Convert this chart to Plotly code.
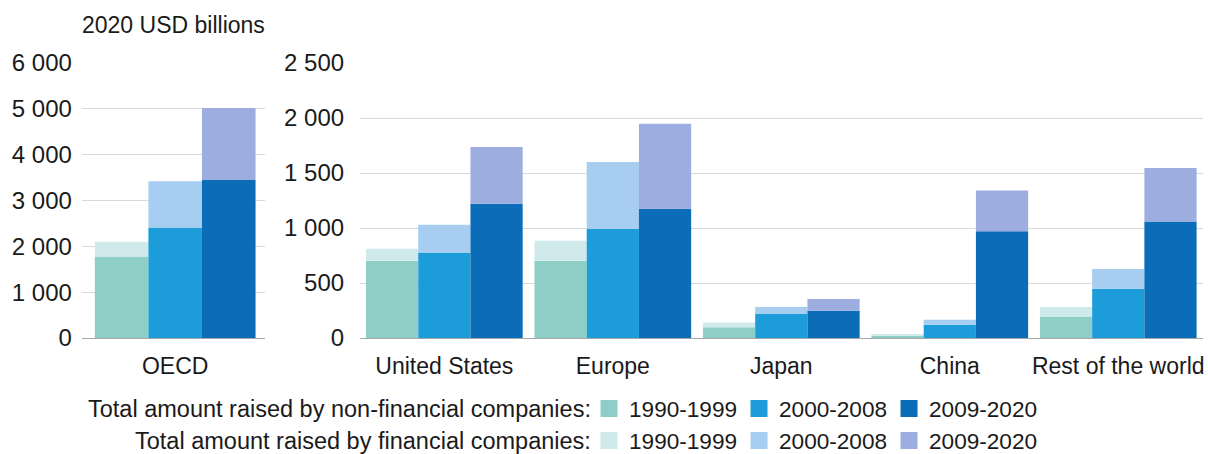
import plotly.graph_objects as go

# ---------------- data ----------------
periods = ["1990-1999", "2000-2008", "2009-2020"]
oecd_category = ["OECD"]
regions = ["United States", "Europe", "Japan", "China", "Rest of the world"]

# OECD (left panel), one value per period
oecd_nonfin = [1780, 2410, 3450]
oecd_fin = [320, 1010, 1570]

# Regions (right panel), values per region
nonfin_1990_1999 = [703, 703, 97, 21, 191]
nonfin_2000_2008 = [778, 991, 218, 121, 448]
nonfin_2009_2020 = [1221, 1176, 248, 970, 1060]
fin_1990_1999 = [109, 182, 45, 9, 91]
fin_2000_2008 = [252, 609, 64, 45, 179]
fin_2009_2020 = [515, 772, 107, 372, 485]

left_ticks = [0, 1000, 2000, 3000, 4000, 5000, 6000]
right_ticks = [0, 500, 1000, 1500, 2000, 2500]

# ---------------- styles ----------------
nonfin_colors = ["#8dcfc6", "#1c9cd8", "#0b6db8"]
fin_colors = ["#d0eaec", "#a7cdf1", "#9dade0"]
FONT = "Liberation Sans, Arial, sans-serif"
FS = 23
YFS = 24
LFS = 22.6
AFS = 23.5
TXT = "#1a1a1a"
W, H = 1208, 470   # page window is 454 high; the extra strip below is cut off

nonfin_regions = [nonfin_1990_1999, nonfin_2000_2008, nonfin_2009_2020]
fin_regions = [fin_1990_1999, fin_2000_2008, fin_2009_2020]

fig = go.Figure()
for i, p in enumerate(periods):
    # left panel
    fig.add_trace(go.Bar(x=oecd_category, y=[oecd_nonfin[i]], offsetgroup=str(i),
                         marker=dict(color=nonfin_colors[i], line_width=0),
                         xaxis="x", yaxis="y", showlegend=False, name=p))
    fig.add_trace(go.Bar(x=oecd_category, y=[oecd_fin[i]], base=[oecd_nonfin[i]],
                         offsetgroup=str(i),
                         marker=dict(color=fin_colors[i], line_width=0),
                         xaxis="x", yaxis="y", showlegend=False, name=p))
    # right panel
    fig.add_trace(go.Bar(x=regions, y=nonfin_regions[i], offsetgroup=str(i),
                         marker=dict(color=nonfin_colors[i], line_width=0),
                         xaxis="x2", yaxis="y2", name=p, showlegend=False))
    fig.add_trace(go.Bar(x=regions, y=fin_regions[i], base=nonfin_regions[i],
                         offsetgroup=str(i),
                         marker=dict(color=fin_colors[i], line_width=0),
                         xaxis="x2", yaxis="y2", name=p, showlegend=False))

# legend entries (no data of their own; larger square symbols like the original)
for legend_id, colors in (("legend", nonfin_colors), ("legend2", fin_colors)):
    for i, p in enumerate(periods):
        fig.add_trace(go.Bar(x=[None], y=[None], offsetgroup=str(i), name=p,
                             marker=dict(color=colors[i], line=dict(color=colors[i], width=5)),
                             xaxis="x2", yaxis="y2", legend=legend_id, hoverinfo="skip",
                             legendwidth=(125 if i == len(periods) - 1 else None)))

plot_top, plot_bot = 63.3, 338.3
ph = plot_bot - plot_top

def py(px):
    return (plot_bot - px) / ph

common_y = dict(showgrid=True, gridcolor="#d9d9d9", gridwidth=1, zeroline=False,
                showline=False, ticks="", tickformat=",d",
                tickfont=dict(family=FONT, size=YFS, color=TXT))
common_x = dict(type="category", showgrid=False, zeroline=False, showline=True,
                linecolor="#a8a8a8", linewidth=1, ticks="",
                tickfont=dict(family=FONT, size=FS, color=TXT), ticklabelstandoff=7)

leg_common = dict(orientation="h", xanchor="left", yanchor="middle",
                  bgcolor="rgba(0,0,0,0)", font=dict(family=FONT, size=LFS, color=TXT),
                  traceorder="normal", entrywidth=105, entrywidthmode="pixels")

fig.update_layout(
    width=W, height=H,
    margin=dict(l=0, r=0, t=plot_top, b=H - plot_bot, pad=0),
    paper_bgcolor="white", plot_bgcolor="white",
    separators=". ",
    barmode="group", bargap=0.07, bargroupgap=0,
    font=dict(family=FONT, size=FS, color=TXT),
    xaxis=dict(domain=[82 / W, 265.5 / W], range=[-0.54, 0.52], anchor="y", **common_x),
    yaxis=dict(domain=[0, 1], range=[0, 6000], tickvals=left_ticks, anchor="x",
               ticklabelstandoff=9, **common_y),
    xaxis2=dict(domain=[360.7 / W, 1204.5 / W], range=[-0.5, 4.5], anchor="y2", **common_x),
    yaxis2=dict(domain=[0, 1], range=[0, 2500], tickvals=right_ticks, anchor="x2",
                ticklabelstandoff=15, **common_y),
    legend=dict(x=590 / W, y=py(409), **leg_common),
    legend2=dict(x=590 / W, y=py(441), **leg_common),
    annotations=[
        dict(text="2020 USD billions", xref="paper", yref="paper", x=80 / W, y=py(25),
             xanchor="left", yanchor="middle", showarrow=False,
             font=dict(family=FONT, size=FS, color=TXT)),
        dict(text="Total amount raised by non-financial companies:", xref="paper", yref="paper",
             x=594 / W, y=py(409), xanchor="right", yanchor="middle", showarrow=False,
             font=dict(family=FONT, size=AFS, color=TXT)),
        dict(text="Total amount raised by financial companies:", xref="paper", yref="paper",
             x=594 / W, y=py(441), xanchor="right", yanchor="middle", showarrow=False,
             font=dict(family=FONT, size=AFS, color=TXT)),
    ],
)

fig.write_html("out.html", config={"displayModeBar": False},
               post_script="document.body.style.margin='0';document.body.style.overflow='hidden';")
